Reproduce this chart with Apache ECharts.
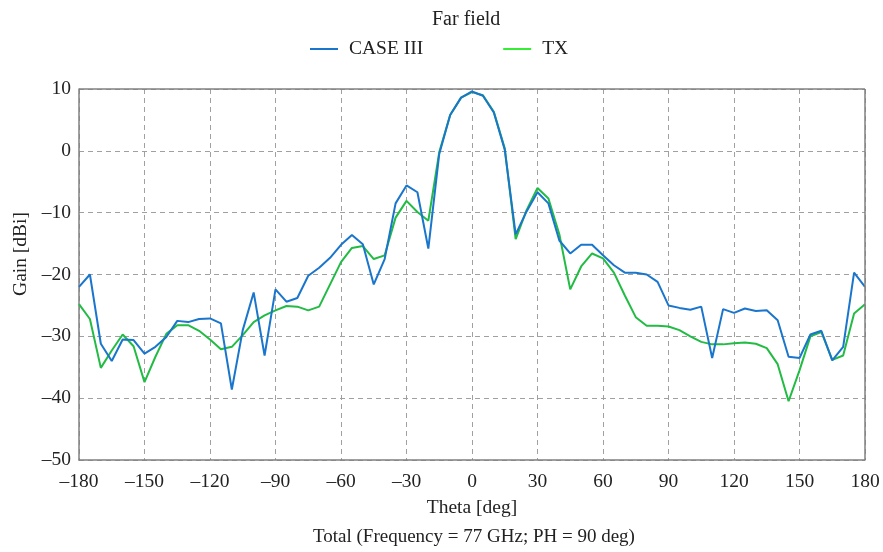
<!DOCTYPE html>
<html><head><meta charset="utf-8">
<script src="https://cdn.jsdelivr.net/npm/echarts@6/dist/echarts.min.js"></script>
<style>html,body{margin:0;padding:0;background:#fff}#c{width:883px;height:552px}</style>
</head><body><div id="c"></div>
<script>
const theta = [];
for (let t = -180; t <= 180; t += 5) theta.push(t);
const caseIII = [
 -22.0,-20.0,-31.2,-34.0,-30.5,-30.6,-32.8,-31.7,-30.1,-27.5,-27.7,-27.2,-27.1,-27.9,-38.6,-29.0,-22.9,-33.1,
 -22.4,-24.4,-23.8,-20.2,-18.9,-17.3,-15.2,-13.6,-15.1,-21.6,-17.5,-8.5,-5.6,-6.7,-15.8,-0.5,5.8,8.6,
 9.6,8.9,6.2,0.2,-13.5,-9.8,-6.7,-8.5,-14.5,-16.6,-15.2,-15.2,-16.9,-18.5,-19.7,-19.7,-20.0,-21.2,
 -25.0,-25.4,-25.7,-25.2,-33.5,-25.6,-26.2,-25.5,-25.9,-25.8,-27.4,-33.3,-33.5,-29.7,-29.1,-33.9,-31.7,-19.7,-22.0
];
const tx = [
 -24.8,-27.2,-35.1,-32.3,-29.7,-31.6,-37.4,-33.3,-29.6,-28.2,-28.2,-29.1,-30.5,-32.1,-31.7,-29.8,-27.7,-26.6,
 -25.8,-25.1,-25.2,-25.8,-25.2,-21.6,-18.0,-15.7,-15.4,-17.5,-16.9,-10.8,-8.1,-9.9,-11.3,-0.2,5.8,8.6,
 9.5,9.0,6.3,0.4,-14.3,-9.6,-6.0,-7.7,-13.5,-22.4,-18.7,-16.6,-17.4,-19.7,-23.4,-26.9,-28.3,-28.3,
 -28.4,-29.0,-30.0,-30.9,-31.3,-31.3,-31.1,-31.0,-31.2,-31.9,-34.5,-40.5,-35.5,-30.0,-29.3,-33.8,-33.1,-26.3,-24.8
];
const xTicks = [-180,-150,-120,-90,-60,-30,0,30,60,90,120,150,180];
const yTicks = [-50,-40,-30,-20,-10,0,10];

const font = 'Liberation Serif, Times New Roman, serif';
const fs = 19.5;
const minus = v => String(v).replace('-', '\u2013');
const chart = echarts.init(document.getElementById('c'), null, {renderer:'canvas'});
chart.setOption({
  animation:false,
  backgroundColor:'#fff',
  textStyle:{fontFamily:font},
  title:[
    {text:'Far field', left:432, top:10, padding:0, textStyle:{fontFamily:font,fontSize:20,fontWeight:'normal',color:'#222'}},
    {text:'Total (Frequency = 77 GHz; PH = 90 deg)', left:313, top:528, padding:0, textStyle:{fontFamily:font,fontSize:19,fontWeight:'normal',color:'#222'}}
  ],
  legend:{
    top:39, left:310, padding:0, itemGap:80, itemWidth:28, itemHeight:2, icon:'rect',
    textStyle:{fontFamily:font,fontSize:fs,color:'#222',padding:[0,0,0,6]},
    data:[
      {name:'CASE III', itemStyle:{color:'#1a75cc'}},
      {name:'TX', itemStyle:{color:'#33ee33'}}
    ]
  },
  grid:{left:79, right:18, top:89, bottom:92},
  xAxis:{
    type:'value', min:-180, max:180, interval:30,
    name:'Theta [deg]', nameLocation:'middle', nameGap:38,
    nameTextStyle:{fontFamily:font,fontSize:fs,color:'#222'},
    axisLine:{show:true,onZero:false,lineStyle:{color:'#808080',width:1.5}},
    axisTick:{show:false},
    axisLabel:{fontFamily:font,fontSize:fs,color:'#222',margin:12,formatter:v=>minus(v)},
    splitLine:{show:true,lineStyle:{color:'#a0a0a0',type:[5,4],width:1}}
  },
  yAxis:{
    type:'value', min:-50, max:10, interval:10,
    axisLine:{show:true,onZero:false,lineStyle:{color:'#808080',width:1.5}},
    axisTick:{show:false},
    axisLabel:{fontFamily:font,fontSize:fs,color:'#222',margin:8,formatter:v=>minus(v)},
    splitLine:{show:true,lineStyle:{color:'#a0a0a0',type:[5,4],width:1}}
  },
  series:[
    {name:'CASE III', type:'line', z:3, showSymbol:false, symbol:'none',
     data:theta.map((t,i)=>[t,caseIII[i]]), lineStyle:{color:'#1a75cc',width:2}, itemStyle:{color:'#1a75cc'}},
    {name:'TX', type:'line', z:2, showSymbol:false, symbol:'none',
     data:theta.map((t,i)=>[t,tx[i]]), lineStyle:{color:'#22bb44',width:2}, itemStyle:{color:'#33ee33'}}
  ],
  graphic:[
    {type:'text', left:11, top:212, rotation:Math.PI/2,
     style:{text:'Gain [dBi]', font:fs+'px '+font, fill:'#222'}},
    {type:'line', z:10, shape:{x1:865,y1:89,x2:865,y2:460}, style:{stroke:'#808080',lineWidth:1.5}},
    {type:'line', z:10, shape:{x1:79,y1:89,x2:865,y2:89}, style:{stroke:'#808080',lineWidth:1.5}}
  ]
});
</script></body></html>
